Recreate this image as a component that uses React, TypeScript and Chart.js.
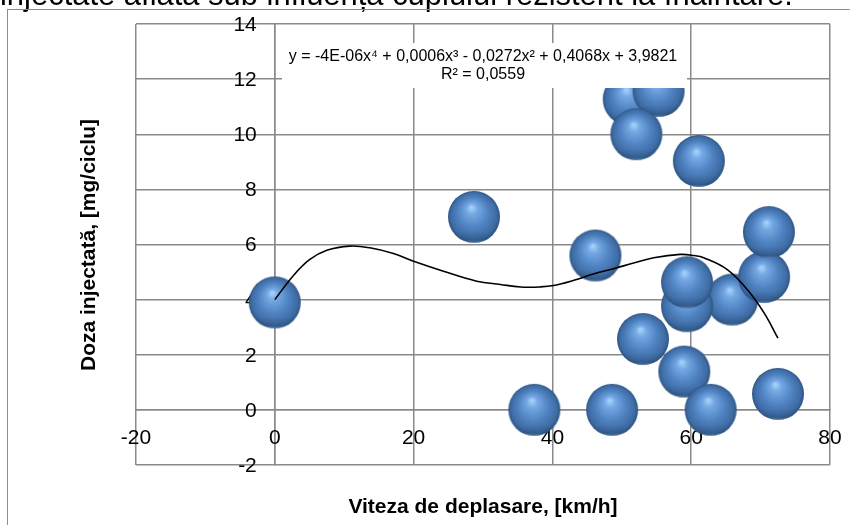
import React, { useEffect, useRef } from "react";
import { Chart, registerables } from "chart.js";

Chart.register(...registerables);

const caption = "injectate aflată sub influența cuplului rezistent la înaintare.";
const xTitle = "Viteza de deplasare, [km/h]";
const yTitle = "Doza injectată, [mg/ciclu]";
const equationLine = "y = -4E-06x⁴ + 0,0006x³ - 0,0272x² + 0,4068x + 3,9821";
const rSquaredLine = "R² = 0,0559";

const xMin = -20;
const xMax = 80;
const xStep = 20;
const yMin = -2;
const yMax = 14;
const yStep = 2;

const speedValues = [0, 28.7, 37.4, 46.2, 48.6, 51.0, 55.3, 52.1, 53.05, 59.0, 65.9, 59.4, 59.4, 61.1, 62.8, 70.5, 71.2, 72.5];
const doseValues = [3.9, 7.0, 0, 5.6, 0, 11.27, 11.57, 10.0, 2.57, 1.39, 4.0, 3.76, 4.63, 9.03, 0, 4.82, 6.45, 0.58];

const trendX = [0, 2.6, 5.0, 7.5, 10.8, 13.7, 17.1, 20, 24.3, 29.1, 32.5, 35.4, 38.2, 40.2, 43.1, 45.9, 48.8, 51.7, 54.6, 58.4, 60.4, 61.8, 65.2, 68.1, 70.5, 72.5];
const trendY = [4.0, 4.85, 5.45, 5.79, 5.94, 5.88, 5.67, 5.39, 5.03, 4.67, 4.55, 4.46, 4.46, 4.51, 4.7, 4.93, 5.12, 5.33, 5.52, 5.64, 5.6, 5.52, 5.09, 4.36, 3.52, 2.6];

const FONT = "'Liberation Sans', Arial, sans-serif";
const GRID = "#8a8a8a";

function makeSphere(r: number): HTMLCanvasElement {
  const size = Math.ceil(r * 2 + 2);
  const c = document.createElement("canvas");
  c.width = size;
  c.height = size;
  const g = c.getContext("2d")!;
  const cx = size / 2;
  const cy = size / 2;
  const grad = g.createRadialGradient(cx - r * 0.1, cy - r * 0.38, 0, cx, cy, r);
  grad.addColorStop(0, "#acd6ff");
  grad.addColorStop(0.22, "#74a8e3");
  grad.addColorStop(0.58, "#5083c2");
  grad.addColorStop(0.88, "#3e6ca4");
  grad.addColorStop(1, "#2f5583");
  g.beginPath();
  g.arc(cx, cy, r, 0, Math.PI * 2);
  g.fillStyle = grad;
  g.fill();
  g.save();
  g.clip();
  const lg = g.createLinearGradient(0, cy + r * 0.55, 0, cy + r);
  lg.addColorStop(0, "rgba(40,70,110,0)");
  lg.addColorStop(0.75, "rgba(40,70,110,0.3)");
  lg.addColorStop(1, "rgba(130,165,215,0.6)");
  g.fillStyle = lg;
  g.fillRect(0, cy + r * 0.55, size, r);
  g.restore();
  return c;
}

const decorPlugin = {
  id: "decor",
  beforeDraw(chart: any) {
    const ctx = chart.ctx;
    ctx.save();
    ctx.fillStyle = "#ffffff";
    ctx.fillRect(0, 0, chart.width, chart.height);
    ctx.fillStyle = "#000";
    ctx.font = `22px ${FONT}`;
    const w = ctx.measureText(caption).width;
    const size = 22 * 793 / w;
    ctx.font = `${size}px ${FONT}`;
    ctx.textAlign = "left";
    ctx.textBaseline = "alphabetic";
    ctx.fillText(caption, 0, 5);
    ctx.strokeStyle = "#8c8c8c";
    ctx.lineWidth = 1;
    ctx.strokeRect(7.5, 9.5, 900, 600);
    ctx.restore();
  },
  beforeDatasetsDraw(chart: any) {
    const ctx = chart.ctx;
    const xs = chart.scales.x;
    const ys = chart.scales.y;
    ctx.save();
    ctx.fillStyle = "#000";
    ctx.font = `21px ${FONT}`;
    const x0 = xs.getPixelForValue(0);
    const y0 = ys.getPixelForValue(0);
    ctx.textAlign = "right";
    ctx.textBaseline = "middle";
    ys.ticks.forEach((t: any) => {
      ctx.fillText(String(t.value), x0 - 18, ys.getPixelForValue(t.value) + 1);
    });
    ctx.textAlign = "center";
    xs.ticks.forEach((t: any) => {
      ctx.fillText(String(t.value), xs.getPixelForValue(t.value), y0 + 28);
    });
    ctx.restore();
  },
  afterDatasetsDraw(chart: any) {
    const ctx = chart.ctx;
    ctx.save();
    ctx.fillStyle = "#fff";
    ctx.fillRect(282, 43, 405, 45);
    ctx.fillStyle = "#000";
    ctx.font = `16px ${FONT}`;
    ctx.textAlign = "center";
    ctx.textBaseline = "middle";
    ctx.fillText(equationLine, 483, 57);
    ctx.fillText(rSquaredLine, 483, 75);
    ctx.restore();
  },
  afterDraw(chart: any) {
    const ctx = chart.ctx;
    ctx.save();
    ctx.fillStyle = "#000";
    ctx.font = `bold 21px ${FONT}`;
    ctx.textAlign = "center";
    ctx.textBaseline = "middle";
    ctx.fillText(xTitle, 483, 507);
    ctx.translate(89, 245);
    ctx.rotate(-Math.PI / 2);
    ctx.fillText(yTitle, 0, 0);
    ctx.restore();
  },
};

export default function App() {
  const ref = useRef<HTMLCanvasElement | null>(null);
  useEffect(() => {
    const prevMargin = document.body.style.margin;
    document.body.style.margin = "0";
    const sphere = makeSphere(26);
    const chart = new Chart(ref.current!, {
      type: "scatter",
      data: {
        datasets: [
          {
            label: "trend",
            data: trendX.map((x, i) => ({ x, y: trendY[i] })),
            showLine: true,
            borderColor: "#000",
            borderWidth: 1.6,
            tension: 0.4,
            pointRadius: 0,
            fill: false,
            clip: false as any,
            order: 0,
          },
          {
            label: "Doza",
            data: speedValues.map((x, i) => ({ x, y: doseValues[i] })),
            pointStyle: sphere as any,
            pointRadius: 26,
            showLine: false,
            clip: false as any,
            order: 1,
          },
        ],
      },
      options: {
        animation: false,
        responsive: false,
        devicePixelRatio: 1,
        layout: { autoPadding: false, padding: { left: 136, top: 24, right: 20, bottom: 60 } },
        plugins: { legend: { display: false }, tooltip: { enabled: false }, title: { display: false } },
        scales: {
          x: {
            type: "linear",
            min: xMin,
            max: xMax,
            position: { y: 0 } as any,
            ticks: { stepSize: xStep, display: false },
            grid: { color: GRID, lineWidth: 1.5, drawTicks: false },
            border: { display: true, color: GRID, width: 1.5 },
            afterFit: (s: any) => { s.height = 0; },
          },
          y: {
            type: "linear",
            min: yMin,
            max: yMax,
            position: { x: 0 } as any,
            ticks: { stepSize: yStep, display: false },
            grid: { color: GRID, lineWidth: 1.5, drawTicks: false },
            border: { display: true, color: GRID, width: 1.5 },
            afterFit: (s: any) => { s.width = 0; },
          },
        },
      },
      plugins: [decorPlugin],
    });
    return () => {
      chart.destroy();
      document.body.style.margin = prevMargin;
    };
  }, []);
  return (
    <div style={{ position: "fixed", left: 0, top: 0, width: 850, height: 525 }}>
      <canvas ref={ref} width={850} height={525} style={{ width: 850, height: 525 }} />
    </div>
  );
}
